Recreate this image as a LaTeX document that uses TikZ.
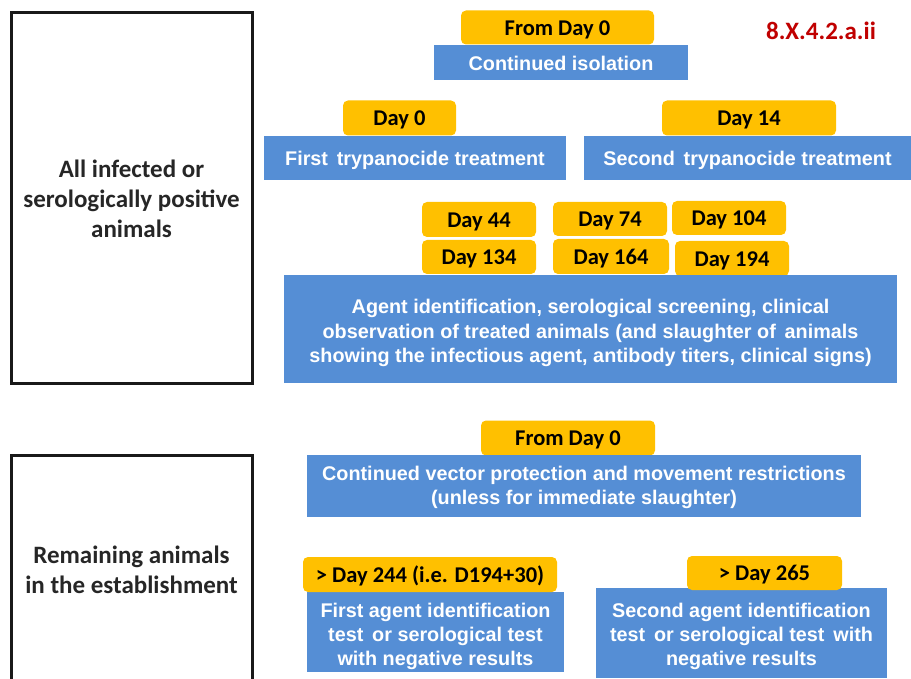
\documentclass[tikz,border=0pt]{standalone}
\usepackage{fontspec}
\setmainfont{Carlito}
\newfontfamily\bluefont{Liberation Sans}
\definecolor{ybg}{RGB}{255,192,0}
\definecolor{bbg}{RGB}{85,142,213}
\definecolor{dred}{RGB}{192,0,0}
\tikzset{
  ybox/.style={fill=ybg, rounded corners=5pt, inner sep=0pt, text height=15.5pt, text depth=0pt, font=\bfseries\fontsize{22.5}{24}\selectfont, text=black},
  bbox/.style={fill=bbg, inner sep=0pt, align=center, text=white, text height=16pt, text depth=0pt, font=\bluefont\bfseries\fontsize{19.8}{24}\selectfont},
  side/.style={align=center, font=\bfseries\fontsize{25}{30}\selectfont, text=black!85},
  frame/.style={draw=black!90, line width=3pt}
}
\begin{document}
\begin{tikzpicture}[x=1pt,y=-1pt]
\useasboundingbox (0,0) rectangle (911,679);
% left frames
\node[frame, minimum width=241pt, minimum height=370pt, inner sep=0pt] (f1) at (131.5,198) {};
\node[side] (t1) at (131.5,199) {All infected or\\serologically positive\\animals};
\draw[frame] (11,690) -- (11,455) -- (252,455) -- (252,690);
\node[side] (t2) at (131.5,570) {Remaining animals\\in the establishment};
% top
\node[bbox, minimum width=254pt, minimum height=35pt, text height=16.4pt] (b1) at (561,62.5) {Continued isolation};
\node[ybox, minimum width=193pt, minimum height=34pt] (y1) at (557.5,27.5) {From Day 0};
\node[text=dred, font=\bfseries\fontsize{25}{24}\selectfont] (ref) at (821,31) {8.X.4.2.a.ii};
% treatments
\node[bbox, minimum width=302pt, minimum height=44pt] (b2) at (415,158) {First\, trypanocide treatment};
\node[ybox, minimum width=113pt, minimum height=35pt] (y2) at (399.5,118) {Day 0};
\node[bbox, minimum width=327pt, minimum height=44pt] (b3) at (747.5,158) {Second\, trypanocide treatment};
\node[ybox, minimum width=174pt, minimum height=35pt] (y3) at (749,118) {Day 14};
% days
\node[ybox, minimum width=114pt, minimum height=35pt] (d44) at (479,219.5) {Day 44};
\node[ybox, minimum width=114pt, minimum height=34pt] (d74) at (610,219) {Day 74};
\node[ybox, minimum width=114pt, minimum height=34pt] (d104) at (729,218) {Day 104};
\node[ybox, minimum width=114pt, minimum height=34pt] (d134) at (479,257) {Day 134};
\node[ybox, minimum width=116pt, minimum height=35pt] (d164) at (611,256.5) {Day 164};
\node[ybox, minimum width=114pt, minimum height=35pt] (d194) at (732,258.5) {Day 194};
\node[bbox, minimum width=613pt, minimum height=108pt, text height=66pt] (b4) at (590.5,329) {Agent identification, serological screening, clinical\\observation of treated animals (and slaughter of\, animals\\showing the infectious agent, antibody titers, clinical signs)};
% lower section
\node[ybox, minimum width=174pt, minimum height=35pt] (y5) at (568,438) {From Day 0};
\node[bbox, minimum width=554pt, minimum height=62pt, text height=37pt] (b5) at (584,486) {Continued vector protection and movement restrictions\\(unless for immediate slaughter)};
\node[bbox, minimum width=257pt, minimum height=80pt, text height=67pt] (b6) at (435.5,632) {First agent identification\\test\, or serological test\\with negative results};
\node[ybox, minimum width=254pt, minimum height=35pt] (y6) at (430,574.5) {> Day 244 (i.e. D194+30)};
\node[bbox, minimum width=291pt, minimum height=90pt, text height=64pt] (b7) at (741.5,633) {Second agent identification\\test\, or serological test\, with\\negative results};
\node[ybox, minimum width=155pt, minimum height=34pt] (y7) at (764.5,573) {> Day 265};
\end{tikzpicture}
\end{document}
